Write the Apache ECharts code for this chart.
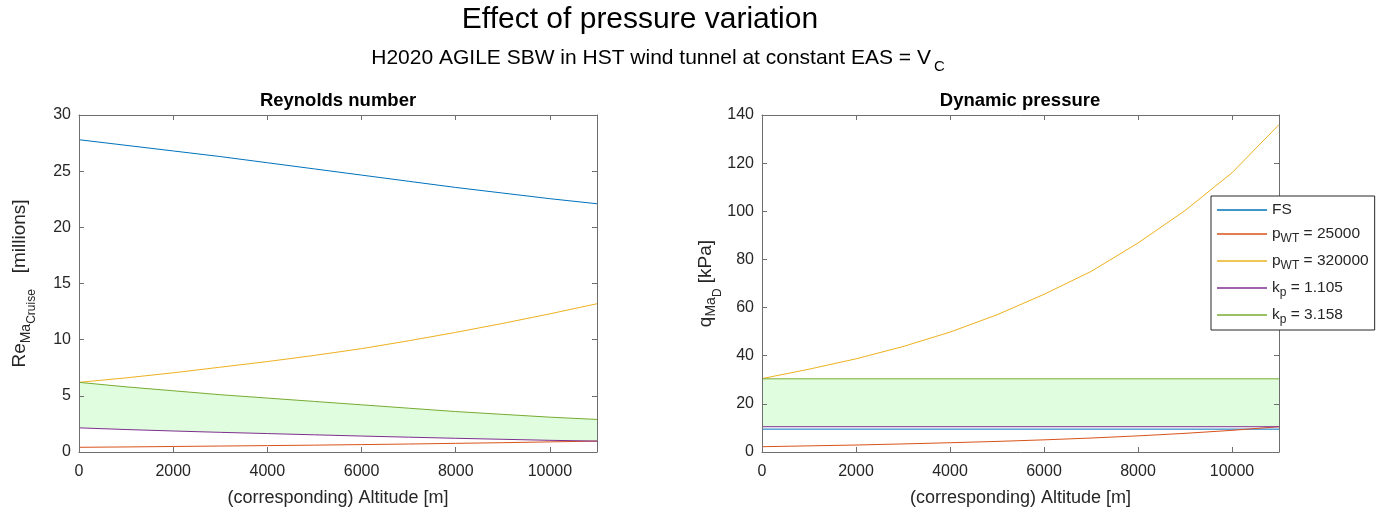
<!DOCTYPE html>
<html>
<head>
<meta charset="utf-8">
<title>Effect of pressure variation</title>
<script src="https://cdn.jsdelivr.net/npm/echarts@6/dist/echarts.min.js"></script>
<style>
  html, body { margin: 0; padding: 0; background: #ffffff; }
  #chart { width: 1376px; height: 512px; }
</style>
</head>
<body>
<div id="chart"></div>
<script>
// Altitude samples [m]
const altitude = [0, 1000, 2000, 3000, 4000, 5000, 6000, 7000, 8000, 9000, 10000, 11000];

// Reynolds number based on cruise Mach [millions]
const reFS   = [27.8, 27.3, 26.8, 26.3, 25.75, 25.2, 24.65, 24.1, 23.55, 23.05, 22.55, 22.1];
const reP25  = [0.42, 0.45, 0.49, 0.53, 0.57, 0.61, 0.66, 0.71, 0.77, 0.83, 0.9, 0.97];
const reP320 = [6.2, 6.6, 7.05, 7.55, 8.05, 8.6, 9.2, 9.9, 10.65, 11.45, 12.3, 13.2];
const reK1   = [2.15, 2.0, 1.87, 1.75, 1.64, 1.53, 1.42, 1.32, 1.22, 1.13, 1.04, 0.97];
const reK3   = [6.2, 5.8, 5.45, 5.1, 4.8, 4.5, 4.2, 3.9, 3.6, 3.35, 3.1, 2.9];

// Dynamic pressure at dive Mach [kPa]
const qFS   = [9.5, 9.5, 9.5, 9.5, 9.5, 9.5, 9.5, 9.5, 9.5, 9.5, 9.5, 9.5];
const qP25  = [2.2, 2.55, 2.9, 3.35, 3.85, 4.4, 5.05, 5.8, 6.7, 7.75, 9.0, 10.5];
const qP320 = [30.5, 34.4, 38.7, 43.8, 49.8, 57.0, 65.5, 75.0, 86.8, 100.3, 116.0, 136.0];
const qK1   = [10.5, 10.5, 10.5, 10.5, 10.5, 10.5, 10.5, 10.5, 10.5, 10.5, 10.5, 10.5];
const qK3   = [30.4, 30.4, 30.4, 30.4, 30.4, 30.4, 30.4, 30.4, 30.4, 30.4, 30.4, 30.4];

// Legend entries
const seriesNames = ['FS', 'pWT25000', 'pWT320000', 'kp1105', 'kp3158'];
const legendTexts = [
  'FS',
  'p{sub|WT} = 25000',
  'p{sub|WT} = 320000',
  'k{sub|p} = 1.105',
  'k{sub|p} = 3.158'
];

const colors = ['#0072BD', '#D95319', '#EDB120', '#7E2F8E', '#77AC30'];
const FONT = '"Liberation Sans", Arial, Helvetica, sans-serif';
const TXT = '#262626';
const AX = '#6e6e6e';

const pairs = (ys) => ys.map((y, i) => [altitude[i], y]);

function lineSeries(name, ys, xi, yi, color) {
  return {
    name: name, type: 'line', xAxisIndex: xi, yAxisIndex: yi,
    data: pairs(ys), showSymbol: false, symbol: 'none', z: 5,
    lineStyle: { color: color, width: 1 }, itemStyle: { color: color },
    animation: false
  };
}

// Shaded band between the two k_p curves, built as one polygon in data space
function bandSeries(lo, hi, xi, yi) {
  const rows = altitude.map((a, i) => [a, lo[i], hi[i]]);
  return {
    type: 'custom', xAxisIndex: xi, yAxisIndex: yi, silent: true, z: 1,
    data: rows,
    encode: { x: 0, y: [1, 2] },
    renderItem: function (params, api) {
      if (params.dataIndex !== 0) return null;
      const upper = rows.map(r => api.coord([r[0], r[2]]));
      const lower = rows.slice().reverse().map(r => api.coord([r[0], r[1]]));
      return {
        type: 'polygon',
        shape: { points: upper.concat(lower) },
        style: { fill: '#e0fde0', stroke: null }
      };
    },
    animation: false
  };
}

function xAx(gi, pos) {
  const main = pos === 'bottom';
  return {
    type: 'value', gridIndex: gi, position: pos, min: 0, max: 11000, interval: 2000, z: 10,
    axisLine: { show: true, onZero: false, lineStyle: { color: AX, width: 1 } },
    axisTick: { show: true, inside: true, length: 5, lineStyle: { color: AX } },
    axisLabel: { show: main, color: TXT, fontSize: 16, fontFamily: FONT, margin: 12, showMaxLabel: false,
                 formatter: (v) => String(v) },
    splitLine: { show: false },
    name: main ? '(corresponding) Altitude [m]' : '',
    nameLocation: 'middle', nameGap: 37,
    nameTextStyle: { color: TXT, fontSize: 18, fontFamily: FONT }
  };
}

function yAx(gi, pos, max, interval, name, rich, gap) {
  const main = pos === 'left';
  return {
    type: 'value', gridIndex: gi, position: pos, min: 0, max: max, interval: interval, z: 10,
    axisLine: { show: true, onZero: false, lineStyle: { color: AX, width: 1 } },
    axisTick: { show: true, inside: true, length: 5, lineStyle: { color: AX } },
    axisLabel: { show: main, color: TXT, fontSize: 16, fontFamily: FONT, margin: 8, formatter: (v) => String(v) },
    splitLine: { show: false },
    name: main ? name : '',
    nameLocation: 'middle', nameRotate: 90, nameGap: gap,
    nameTextStyle: { color: TXT, fontSize: 19, fontFamily: FONT, rich: rich }
  };
}

const nameRich = {
  n:  { fontSize: 19, fontFamily: FONT, color: TXT },
  s:  { fontSize: 14, fontFamily: FONT, color: TXT, padding: [12, 0, 0, 0] },
  ss: { fontSize: 12, fontFamily: FONT, color: TXT, padding: [24, 0, 0, 0] }
};

const chart = echarts.init(document.getElementById('chart'), null, { renderer: 'canvas' });

const series = [].concat(
  [bandSeries(reK1, reK3, 0, 0), bandSeries(qK1, qK3, 2, 2)],
  [reFS, reP25, reP320, reK1, reK3].map((d, i) => lineSeries(seriesNames[i], d, 0, 0, colors[i])),
  [qFS, qP25, qP320, qK1, qK3].map((d, i) => lineSeries(seriesNames[i], d, 2, 2, colors[i]))
);

chart.setOption({
  animation: false,
  backgroundColor: '#ffffff',
  grid: [
    { left: 79, top: 115, width: 518, height: 340 },
    { left: 762, top: 115, width: 517, height: 340 }
  ],
  xAxis: [xAx(0, 'bottom'), xAx(0, 'top'), xAx(1, 'bottom'), xAx(1, 'top')],
  yAxis: [
    yAx(0, 'left', 30, 5, '{n|Re}{s|Ma}{ss|Cruise}{n|   [millions]}', nameRich, 41),
    yAx(0, 'right', 30, 5, '', null, 0),
    yAx(1, 'left', 140, 20, '{n|q}{s|Ma}{ss|D}{n| [kPa]}', nameRich, 31),
    yAx(1, 'right', 140, 20, '', null, 0)
  ],
  legend: {
    data: seriesNames, z: 30, zlevel: 0,
    orient: 'vertical', left: 1211, top: 196,
    backgroundColor: '#ffffff', borderColor: '#262626', borderWidth: 1, borderRadius: 0,
    padding: [6, 6, 4, 6], itemGap: 8, itemWidth: 50, itemHeight: 1.5, icon: 'rect',
    selectedMode: false,
    formatter: (name) => legendTexts[seriesNames.indexOf(name)],
    textStyle: {
      color: TXT, fontSize: 15.5, fontFamily: FONT,
      rich: { sub: { fontSize: 12, fontFamily: FONT, color: TXT, padding: [10, 0, 0, 0] } }
    }
  },
  graphic: [
    { type: 'text', x: 640, y: 20, style: { text: 'Effect of pressure variation', fontSize: 30, fontFamily: FONT, fill: '#000', align: 'center', verticalAlign: 'middle' } },
    { type: 'text', x: 658, y: 58, style: {
        text: '{n|H2020 AGILE SBW in HST wind tunnel at constant EAS = V}{s|C}',
        align: 'center', verticalAlign: 'middle',
        rich: {
          n: { fontSize: 21, fontFamily: FONT, fill: '#000' },
          s: { fontSize: 15, fontFamily: FONT, fill: '#000', padding: [18, 0, 0, 3] }
        }
      } },
    { type: 'text', x: 338, y: 101, style: { text: 'Reynolds number', fontSize: 18.5, fontWeight: 'bold', fontFamily: FONT, fill: '#000', align: 'center', verticalAlign: 'middle' } },
    { type: 'text', x: 1020, y: 101, style: { text: 'Dynamic pressure', fontSize: 18.5, fontWeight: 'bold', fontFamily: FONT, fill: '#000', align: 'center', verticalAlign: 'middle' } }
  ],
  series: series
});
</script>
</body>
</html>
